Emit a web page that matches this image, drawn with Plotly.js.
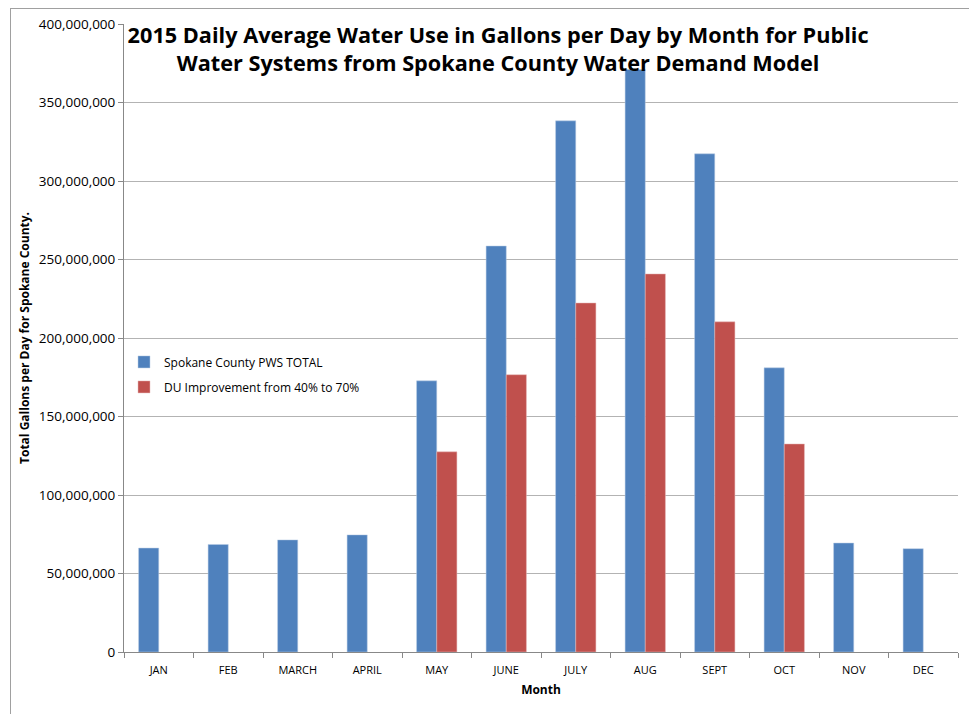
<!DOCTYPE html>
<html>
<head>
<meta charset="utf-8">
<script src="https://cdn.plot.ly/plotly-3.0.1.min.js"></script>
<style>
  html, body { margin: 0; padding: 0; background: #fff; }
  #wrap { position: relative; width: 969px; height: 714px; overflow: hidden; }
  #chart { width: 969px; height: 714px; }
  #frame { position: absolute; left: 10px; top: 8px; width: 980px; height: 720px;
           border-left: 1px solid #a0a0a0; border-top: 1px solid #a0a0a0; pointer-events: none; }
</style>
</head>
<body>
<div id="wrap">
  <div id="chart"></div>
  <div id="frame"></div>
</div>
<script>
const months = ["JAN", "FEB", "MARCH", "APRIL", "MAY", "JUNE", "JULY", "AUG", "SEPT", "OCT", "NOV", "DEC"];
const pwsTotal = [66200000, 68500000, 71400000, 74600000, 172700000, 258600000, 338300000, 371000000, 317300000, 181000000, 69400000, 65800000];
const duImprovement = [null, null, null, null, 127500000, 176600000, 222300000, 240800000, 210300000, 132500000, null, null];
const seriesNames = ["Spokane County PWS TOTAL", "DU Improvement from 40% to 70%"];
const yTicks = [0, 50000000, 100000000, 150000000, 200000000, 250000000, 300000000, 350000000, 400000000];
const yTickText = ["0", "50,000,000", "100,000,000", "150,000,000", "200,000,000", "250,000,000", "300,000,000", "350,000,000", "400,000,000"];

const font = "'Open Sans', 'Noto Sans', sans-serif";

const traces = [
  { type: "bar", x: months, y: pwsTotal, name: seriesNames[0], legendgroup: "a",
    marker: { color: "#4F81BD", line: { color: "#b9cde5", width: 0.5 } } },
  { type: "bar", x: months, y: duImprovement, name: seriesNames[1], legendgroup: "b",
    marker: { color: "#C0504D", line: { color: "#e6b9b8", width: 0.5 } } }
];

const layout = {
  width: 969, height: 714,
  margin: { l: 124, r: 11, t: 24, b: 62 },
  paper_bgcolor: "#fff", plot_bgcolor: "#fff",
  font: { family: font, size: 12, color: "#000" },
  barmode: "group",
  bargap: 0.42,
  bargroupgap: 0,
  hovermode: false,
  title: {
    text: "<b>2015 Daily Average Water Use in Gallons per Day by Month for Public<br>Water Systems from Spokane County Water Demand Model</b>",
    font: { family: font, size: 21.7, color: "#000" },
    x: 0.514, xref: "container", xanchor: "center",
    y: 0.94, yref: "container", yanchor: "top"
  },
  xaxis: {
    type: "category",
    showline: true, linecolor: "#888", linewidth: 1,
    ticks: "outside", tickson: "boundaries", ticklen: 5, tickcolor: "#888",
    ticklabelstandoff: 8,
    showgrid: false,
    tickfont: { family: font, size: 11, color: "#000" },
    title: { text: "<b>Month</b>", font: { family: font, size: 12, color: "#000" }, standoff: 9 }
  },
  yaxis: {
    range: [0, 400000000],
    tickvals: yTicks, ticktext: yTickText,
    showline: true, linecolor: "#888", linewidth: 1,
    ticks: "outside", ticklen: 5, tickcolor: "#888",
    showgrid: true, gridcolor: "#b3b3b3", gridwidth: 1,
    zeroline: false,
    tickfont: { family: font, size: 13.5, color: "#000" },
    title: { text: "<b>Total Gallons per Day for Spokane County.</b>", font: { family: font, size: 12, color: "#000" }, standoff: 6 }
  },
  showlegend: true,
  legend: {
    x: 0.0, xanchor: "left", y: 0.485, yanchor: "top",
    bgcolor: "rgba(255,255,255,0)",
    font: { family: font, size: 12, color: "#000" },
    tracegroupgap: 6,
    itemwidth: 30
  }
};

Plotly.newPlot("chart", traces, layout, { displayModeBar: false, staticPlot: true });
</script>
</body>
</html>
